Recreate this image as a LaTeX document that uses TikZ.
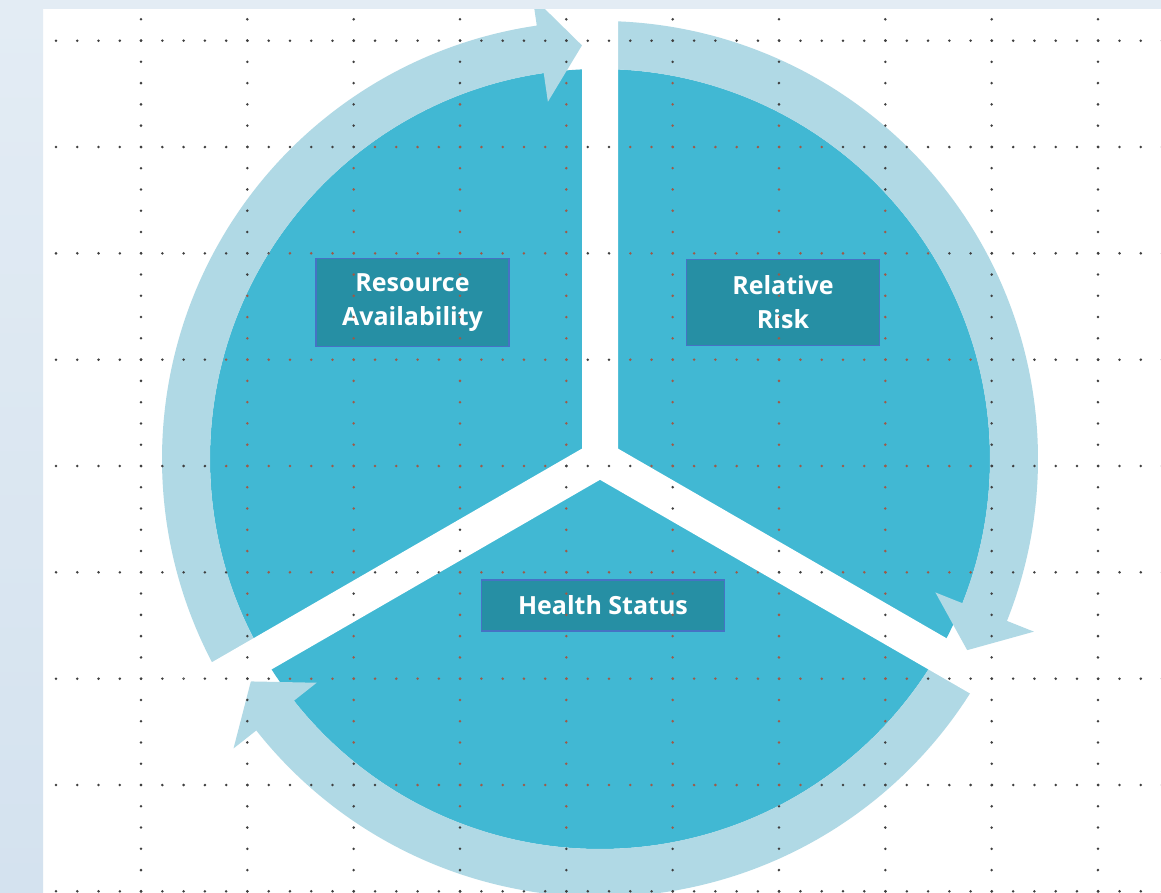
\documentclass[tikz,border=0pt]{standalone}
\usepackage{fontspec}
\setmainfont{Open Sans}
\usetikzlibrary{positioning}
\definecolor{discblue}{HTML}{41B8D3}
\definecolor{ringblue}{HTML}{B0D9E5}
\definecolor{boxteal}{HTML}{268FA4}
\definecolor{boxedge}{HTML}{4672C4}
\definecolor{dotgray}{HTML}{3F3F3F}
\definecolor{dotred}{HTML}{9E5A48}
\definecolor{stripblue}{HTML}{E3ECF4}
\definecolor{stripdeep}{HTML}{D4E2EF}
\tikzset{
  disc/.style  ={fill=discblue},
  cyc/.style   ={fill=ringblue},
  gapbar/.style={fill=white},
  lbl/.style   ={draw=boxedge, line width=1.5pt, fill=boxteal, text=white, align=center,
                 inner sep=0pt, font=\fontsize{25}{34}\selectfont\bfseries},
}
% dotted grid, absolute coordinates (1pt = 1px)
\newcommand{\dotgrid}[1]{%
  \foreach \k in {0,...,8}
    \foreach \j in {0,...,52}
      \fill[#1] (56+\j*21.27, 851.3-\k*106.33) circle[radius=1.4];
  \foreach \i in {0,...,9}
    \foreach \j in {0,...,41}
      \fill[#1] (141+\i*106.33, 872.7-\j*21.27) circle[radius=1.4];
}
% ring arrow: tail angle, tip angle (clockwise)
\newcommand{\cycarrow}[2]{%
  (#1:438) arc[start angle=#1, end angle=#2+5.8, radius=438]
  -- (#2+5.8:467) -- (#2:414) -- (#2+5.8:361) -- (#2+5.8:390)
  arc[start angle=#2+5.8, end angle=#1, radius=390] -- cycle}
\newcommand{\gapbars}{%
  \foreach \t in {90,210,330}{(\t+90:18) -- ++(\t:500) -- ++(\t-90:36) -- ++(\t+180:500) -- cycle}}

\begin{document}
\begin{tikzpicture}[x=1pt, y=1pt]
  \useasboundingbox (0,0) rectangle (1161,892);
  \fill[white] (0,0) rectangle (1161,892);
  \dotgrid{dotgray}

  \begin{scope}[shift={(600,433)}]
    \coordinate (c) at (0,0);
    \fill[disc] (c) circle[radius=390];
    \node[lbl, minimum width=193pt, minimum height=88pt] (res) at (-187.5,156.5) {Resource\\Availability};
    \node[lbl, minimum width=193pt, minimum height=86pt, right=176pt of res] (risk) {Relative\\Risk};
    \node[lbl, minimum width=243pt, minimum height=51pt] (health) at (3,-146.3) {Health Status};
  \end{scope}

  % dots seen through the disc
  \begin{scope}
    \clip (600,433) circle[radius=390];
    \dotgrid{dotred}
  \end{scope}

  % the three arrows of the cycle
  \fill[cyc, shift={(600,433)}] \cycarrow{210}{92.5} \cycarrow{90}{-27.5} \cycarrow{-30}{-147.5};
  \begin{scope}
    \clip[shift={(600,433)}] \cycarrow{210}{92.5} \cycarrow{90}{-27.5} \cycarrow{-30}{-147.5};
    \dotgrid{dotgray}
  \end{scope}

  % white gaps between sectors
  \fill[gapbar, shift={(600,433)}] \gapbars;
  \begin{scope}
    \clip[shift={(600,433)}] \gapbars;
    \dotgrid{dotgray}
  \end{scope}

  % page frame
  \fill[stripblue] (0,883) rectangle (1161,892);
  \shade[top color=stripblue, bottom color=stripdeep] (0,0) rectangle (43,883);
\end{tikzpicture}
\end{document}
